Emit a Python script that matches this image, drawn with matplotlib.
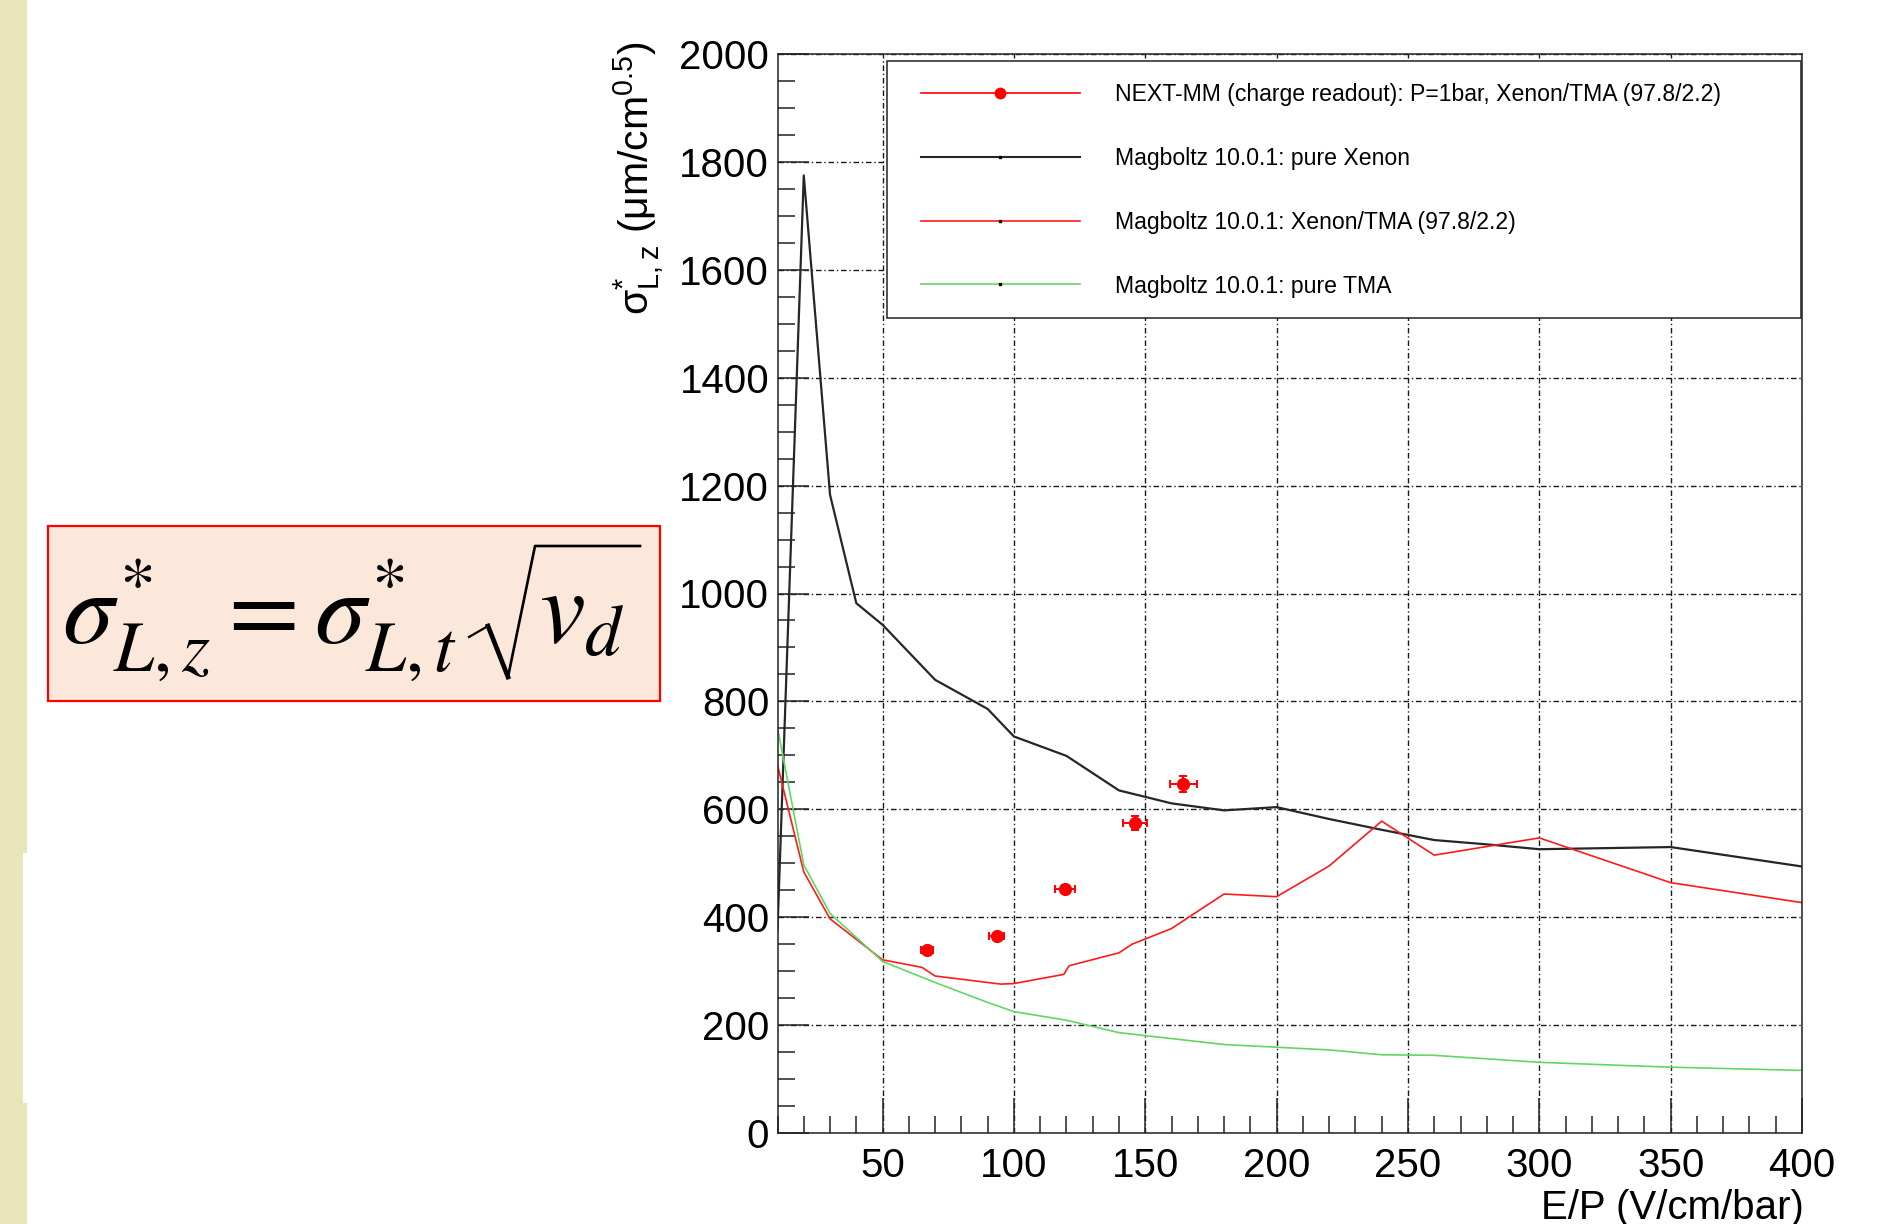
import matplotlib
matplotlib.use("Agg")
import matplotlib.pyplot as plt
from matplotlib.lines import Line2D
from matplotlib.patches import Rectangle
from matplotlib.ticker import MultipleLocator

plt.rcParams['font.family'] = ['Liberation Sans', 'DejaVu Sans']

# NEXT-MM measurement (charge readout)
ep_data = [67, 93.5, 119.5, 146, 164.5]
sig_data = [339, 365, 452, 575, 647]
ep_err = [2.3, 2.9, 3.7, 4.5, 5.2]
sig_err = [5, 6, 8, 13, 15]

# Magboltz: pure Xenon
xe_ep = [10, 20, 30, 40, 50, 70, 90, 100, 120, 140, 150, 160, 180, 200,
         220, 240, 260, 280, 300, 350, 400]
xe_sig = [376, 1775, 1183, 982, 942, 840, 786, 735, 699, 635, 623, 611, 598, 604,
          582, 562, 543, 535, 526, 530, 494]

# Magboltz: Xenon/TMA (97.8/2.2)
xtma_ep = [10, 20, 30, 50, 65, 70, 95, 100, 119, 121, 140, 145, 160, 180, 200,
           220, 240, 260, 300, 350, 400]
xtma_sig = [682, 484, 397, 321, 307, 291, 276, 277, 294, 310, 334, 350, 379, 443, 438,
            495, 578, 515, 547, 464, 427]

# Magboltz: pure TMA
tma_ep = [10, 20, 30, 50, 70, 90, 100, 120, 140, 160, 180, 200, 220, 240, 260, 300, 350, 400]
tma_sig = [751, 497, 407, 318, 279, 242, 225, 209, 186, 175, 164, 159, 154, 145, 144, 131, 122, 116]

leg_labels = ['NEXT-MM (charge readout): P=1bar, Xenon/TMA (97.8/2.2)',
              'Magboltz 10.0.1: pure Xenon',
              'Magboltz 10.0.1: Xenon/TMA (97.8/2.2)',
              'Magboltz 10.0.1: pure TMA']

W, H = 1900, 1224
fig = plt.figure(figsize=(W / 100, H / 100), dpi=100)
fig.patch.set_facecolor('white')

# khaki strip on the left of the slide
fig.patches.append(Rectangle((0, 0), 27 / W, 1, transform=fig.transFigure,
                             facecolor='#e8e6b9', edgecolor='none'))
fig.patches.append(Rectangle((23 / W, 1 - 1103 / H), 4 / W, 250 / H, transform=fig.transFigure,
                             facecolor='white', edgecolor='none'))

ax = fig.add_axes([777.5 / W, 1 - 1133 / H, 1024.5 / W, 1079 / H])

c_xe = '#262626'
c_red = '#ff1a1a'
c_green = '#62d662'

ax.plot(xe_ep, xe_sig, color=c_xe, lw=1.6)
ax.plot(xtma_ep, xtma_sig, color=c_red, lw=1.2)
ax.plot(tma_ep, tma_sig, color=c_green, lw=1.2)
ax.errorbar(ep_data, sig_data, xerr=ep_err, yerr=sig_err, fmt='o', color='red',
            ms=8.5, elinewidth=1.4, capsize=3, capthick=1.4)

ax.set_xlim(10, 400)
ax.set_ylim(0, 2000)
ax.xaxis.set_major_locator(MultipleLocator(50))
ax.xaxis.set_minor_locator(MultipleLocator(10))
ax.yaxis.set_major_locator(MultipleLocator(200))
ax.yaxis.set_minor_locator(MultipleLocator(50))

ax.grid(True, which='major', color='#1a1a1a', lw=1.0, linestyle=(0, (4, 2, 1, 2)))
ax.set_axisbelow(True)

ax.tick_params(axis='both', which='both', direction='in', width=1.1, color='#222222',
               labelsize=29)
ax.tick_params(axis='x', which='major', length=25, pad=10)
ax.tick_params(axis='x', which='minor', length=12)
ax.tick_params(axis='y', which='major', length=22, pad=6)
ax.tick_params(axis='y', which='minor', length=12)
for sp in ax.spines.values():
    sp.set_linewidth(1.1)
    sp.set_color('#222222')

ax.set_xlabel('E/P (V/cm/bar)', fontsize=29, loc='right')
ax.xaxis.set_label_coords(1.002, -0.052)
ax.set_ylabel(r'$\mathregular{\sigma^{*}_{L,z}}$ (μm/cm$^{\mathregular{0.5}}$)',
              fontsize=29.5, loc='top')
ax.yaxis.set_label_coords(-0.108, 1.012)

# legend: frame drawn separately so the inner padding can match
ax.add_patch(Rectangle((0.1072, 0.7556), 0.8914, 0.2379, transform=ax.transAxes,
                       facecolor='white', edgecolor='#222222', lw=1.1, zorder=5))
handles = [
    Line2D([], [], color='red', lw=1.2, marker='o', ms=7.5),
    Line2D([], [], color=c_xe, lw=1.5, marker='s', ms=1.5, mfc='k', mec='k'),
    Line2D([], [], color=c_red, lw=1.2, marker='s', ms=1.5, mfc='k', mec='k'),
    Line2D([], [], color=c_green, lw=1.2, marker='s', ms=1.5, mfc='k', mec='k'),
]
leg = ax.legend(handles, leg_labels, loc='upper left', bbox_to_anchor=(0.140, 0.973),
                frameon=False, fontsize=16.6, numpoints=1, borderpad=0, borderaxespad=0,
                labelspacing=1.77, handlelength=6.9, handletextpad=1.5)
leg.set_zorder(6)

# boxed formula on the left
fig.patches.append(Rectangle((47.5 / W, 1 - 701 / H), 612 / W, 175 / H, transform=fig.transFigure,
                             facecolor='#fce8da', edgecolor='#ff0000', lw=1.6))

t1 = fig.text(62 / W, 1 - 643 / H, r'$\sigma^{*}_{L,z} = \sigma^{*}_{L,t}$', fontsize=74,
              math_fontfamily='stix', va='baseline', ha='left')
fig.canvas.draw()
bb = t1.get_window_extent()
r0 = bb.x1 + 12  # start of the radical, pixels from the left

# radical sign drawn as strokes (pixel offsets from r0, y from top)
fig.lines.append(Line2D([r0 / W, (r0 + 19) / W], [1 - 637 / H, 1 - 626 / H],
                        transform=fig.transFigure, color='black', lw=1.6))
fig.lines.append(Line2D([(r0 + 19) / W, (r0 + 39) / W], [1 - 626 / H, 1 - 677 / H],
                        transform=fig.transFigure, color='black', lw=3.4))
fig.lines.append(Line2D([(r0 + 39) / W, (r0 + 66) / W, (r0 + 171) / W],
                        [1 - 677 / H, 1 - 546 / H, 1 - 546 / H],
                        transform=fig.transFigure, color='black', lw=1.9))
fig.text((r0 + 70) / W, 1 - 643 / H, r'$v_d$', fontsize=74, math_fontfamily='stix',
         va='baseline', ha='left')

fig.savefig('out.png', dpi=100)
